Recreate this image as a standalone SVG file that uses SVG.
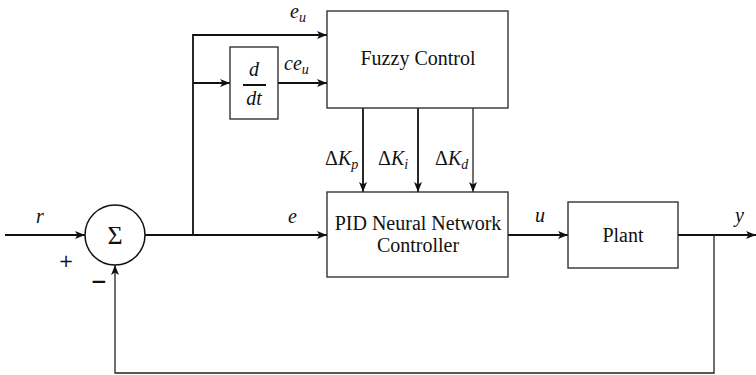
<svg xmlns="http://www.w3.org/2000/svg" width="756" height="375" viewBox="0 0 756 375">
<style>
.box{fill:#fff;stroke:#333;stroke-width:1.4}
.lbl{font-family:"Liberation Serif","Times New Roman","DejaVu Serif",serif;font-size:20px;fill:#111;text-anchor:middle}
.m{font-family:"Liberation Serif","Times New Roman","DejaVu Serif",serif;font-size:20px;font-style:italic;fill:#111}
.sub{font-size:14px}
.up{font-style:normal}
.w{fill:none;stroke:#111;stroke-width:1.8}
.t{fill:none;stroke:#222;stroke-width:1.3}
</style>
<defs>
<marker id="ah" markerUnits="userSpaceOnUse" markerWidth="11" markerHeight="9" refX="10" refY="4.5" orient="auto">
<path d="M0,0.5 L10,4.5 L0,8.5 L2.5,4.5 Z" fill="#111"/>
</marker>
</defs>
<g id="connectors">
<path class="w" d="M5,235 H85" marker-end="url(#ah)"/>
<path class="w" d="M145,235 H327" marker-end="url(#ah)"/>
<path class="w" d="M193,235 V35 H327" marker-end="url(#ah)"/>
<path class="w" d="M193,83 H230" marker-end="url(#ah)"/>
<path class="w" d="M278,83 H327" marker-end="url(#ah)"/>
<path class="w" d="M363,108 V192" marker-end="url(#ah)"/>
<path class="w" d="M418,108 V192" marker-end="url(#ah)"/>
<path class="t" d="M473,108 V192" marker-end="url(#ah)"/>
<path class="w" d="M508,235 H568" marker-end="url(#ah)"/>
<path class="w" d="M678,235 H756" marker-end="url(#ah)"/>
<path class="t" d="M714,235 V373 H115 V265" marker-end="url(#ah)"/>
</g>
<g id="sum">
<circle cx="115" cy="235" r="30" fill="#fff" stroke="#111" stroke-width="1.5"/>
<text class="lbl" x="115" y="244" style="font-size:26px">Σ</text>
</g>
<g id="fuzzy">
<rect class="box" x="327" y="11" width="181" height="97"/>
<text class="lbl" x="418" y="65">Fuzzy Control</text>
</g>
<g id="ddt">
<rect class="box" x="230" y="47" width="48" height="72"/>
<text class="m" x="254" y="76" text-anchor="middle">d</text>
<line x1="243" y1="85" x2="266" y2="85" stroke="#111" stroke-width="2"/>
<text class="m" x="254" y="105" text-anchor="middle">dt</text>
</g>
<g id="pid">
<rect class="box" x="327" y="192" width="181" height="85"/>
<text class="lbl" x="418" y="230">PID Neural Network</text>
<text class="lbl" x="418" y="252">Controller</text>
</g>
<g id="plant">
<rect class="box" x="568" y="202" width="110" height="66"/>
<text class="lbl" x="623" y="242">Plant</text>
</g>
<g id="labels">
<text class="m" x="290" y="18">e<tspan class="sub" dy="4">u</tspan></text>
<text class="m" x="284" y="70">ce<tspan class="sub" dy="4">u</tspan></text>
<text class="m" x="325" y="165"><tspan class="up">Δ</tspan>K<tspan class="sub" dy="4">p</tspan></text>
<text class="m" x="378" y="165"><tspan class="up">Δ</tspan>K<tspan class="sub" dy="4">i</tspan></text>
<text class="m" x="435" y="165"><tspan class="up">Δ</tspan>K<tspan class="sub" dy="4">d</tspan></text>
<text class="m" x="36" y="223">r</text>
<text class="m" x="288" y="223">e</text>
<text class="m" x="535" y="222">u</text>
<text class="m" x="735" y="222">y</text>
<text x="66" y="267" font-family="DejaVu Sans,sans-serif" font-size="18" text-anchor="middle" fill="#111">+</text>
<text x="99" y="288" font-family="DejaVu Sans,sans-serif" font-size="20" font-weight="bold" text-anchor="middle" fill="#111">−</text>
</g>
</svg>
